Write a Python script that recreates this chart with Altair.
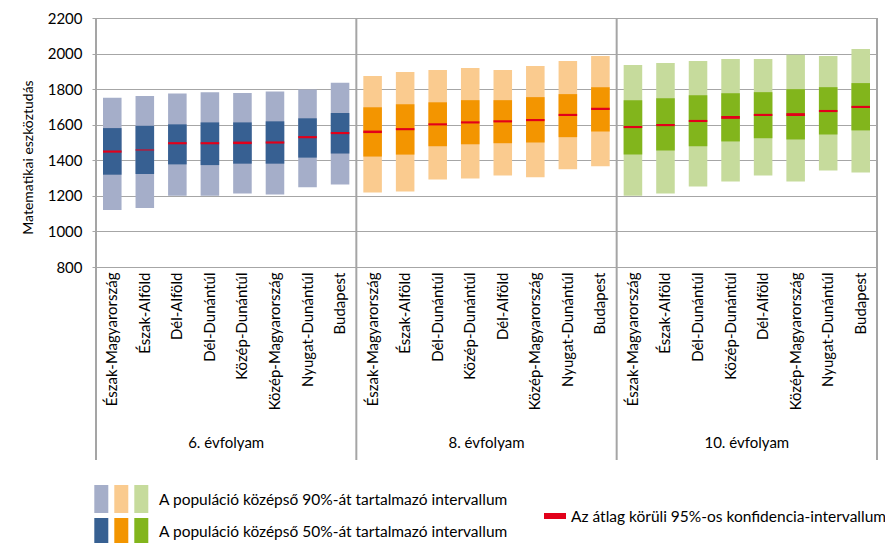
import altair as alt
import pandas as pd

grades = ["6. évfolyam", "8. évfolyam", "10. évfolyam"]
regions_6 = ["Észak-Magyarország", "Észak-Alföld", "Dél-Alföld", "Dél-Dunántúl",
             "Közép-Dunántúl", "Közép-Magyarország", "Nyugat-Dunántúl", "Budapest"]
regions_8 = ["Észak-Magyarország", "Észak-Alföld", "Dél-Dunántúl", "Közép-Dunántúl",
             "Dél-Alföld", "Közép-Magyarország", "Nyugat-Dunántúl", "Budapest"]
regions_10 = ["Észak-Magyarország", "Észak-Alföld", "Dél-Dunántúl", "Közép-Dunántúl",
              "Dél-Alföld", "Közép-Magyarország", "Nyugat-Dunántúl", "Budapest"]

# 5th / 25th / mean / 75th / 95th percentiles
p95_6 = [1751, 1762, 1775, 1783, 1779, 1787, 1798, 1836]
p75_6 = [1581, 1594, 1602, 1613, 1613, 1619, 1636, 1666]
mean_6 = [1449, 1458, 1496, 1496, 1498, 1500, 1530, 1553]
p25_6 = [1319, 1323, 1377, 1373, 1381, 1381, 1415, 1438]
p5_6 = [1121, 1132, 1200, 1200, 1213, 1207, 1249, 1264]
ci_6 = [6, 3, 6, 6, 7, 6, 6, 6]

p95_8 = [1874, 1896, 1908, 1919, 1908, 1930, 1958, 1987]
p75_8 = [1698, 1715, 1726, 1738, 1738, 1755, 1772, 1811]
mean_8 = [1560, 1575, 1602, 1613, 1619, 1626, 1655, 1689]
p25_8 = [1421, 1432, 1479, 1490, 1496, 1500, 1530, 1562]
p5_8 = [1219, 1224, 1292, 1298, 1315, 1304, 1349, 1366]
ci_8 = [7, 6, 6, 6, 6, 6, 6, 6]

p95_10 = [1936, 1947, 1958, 1970, 1970, 1994, 1987, 2026]
p75_10 = [1738, 1749, 1766, 1777, 1783, 1800, 1811, 1834]
mean_10 = [1587, 1598, 1621, 1641, 1655, 1657, 1677, 1700]
p25_10 = [1432, 1455, 1479, 1506, 1524, 1517, 1545, 1568]
p5_10 = [1200, 1213, 1253, 1281, 1315, 1281, 1343, 1332]
ci_10 = [6, 6, 6, 8, 6, 8, 6, 6]

y_ticks = [800, 1000, 1200, 1400, 1600, 1800, 2000, 2200]

light_colors = ["#A5AEC9", "#FACB8F", "#C6DB9C"]
dark_colors = ["#376092", "#F39500", "#82B51C"]
red = "#E2001A"
grid_gray = "#A6A6A6"
frame_gray = "#A5A5A5"
FONT = "Lato"

rows = []
sets = [
    (grades[0], regions_6, p5_6, p25_6, mean_6, p75_6, p95_6, ci_6),
    (grades[1], regions_8, p5_8, p25_8, mean_8, p75_8, p95_8, ci_8),
    (grades[2], regions_10, p5_10, p25_10, mean_10, p75_10, p95_10, ci_10),
]
for g, regs, a, b, m, c, d, ci in sets:
    for i, r in enumerate(regs):
        rows.append(dict(grade=g, key=f"{g}|{r}", region=r, p5=a[i], p25=b[i],
                         mean=m[i], p75=c[i], p95=d[i],
                         lo=m[i] - ci[i], hi=m[i] + ci[i]))
df = pd.DataFrame(rows)
keys = list(df["key"])

W, H = 781, 249

xaxis = alt.Axis(title=None, labelExpr="split(datum.label, '|')[1]",
                 labelAngle=270, labelAlign="right", labelBaseline="middle",
                 labelPadding=5, domain=False, ticks=False,
                 labelFont=FONT, labelFontSize=15, labelColor="black",
                 labelLimit=300)
xscale = alt.Scale(paddingInner=0.43, paddingOuter=0.215)
yscale = alt.Scale(domain=[800, 2200], nice=False, zero=False)
yaxis = alt.Axis(title="Matematikai eszköztudás", values=y_ticks,
                 format="d", labelOverlap=False, tickCount=8,
                 grid=True, gridColor=grid_gray, gridWidth=1,
                 domain=False, ticks=True, tickSize=4, tickColor=grid_gray,
                 labelPadding=10, labelFont=FONT, labelFontSize=15,
                 labelColor="black", titleFont=FONT, titleFontSize=14,
                 titleFontWeight="normal", titleColor="black",
                 titleX=-68, titleY=139, titleBaseline="middle",
                 titleAlign="center", titleAngle=270)

base = alt.Chart(df)

light = base.mark_bar().encode(
    x=alt.X("key:N", sort=keys, scale=xscale, axis=xaxis),
    y=alt.Y("p5:Q", scale=yscale, axis=yaxis),
    y2="p95:Q",
    color=alt.Color("grade:N", scale=alt.Scale(domain=grades, range=light_colors), legend=None),
)

dark = base.mark_bar().encode(
    x=alt.X("key:N", sort=keys, scale=xscale, axis=xaxis),
    y=alt.Y("p25:Q", scale=yscale, axis=yaxis),
    y2="p75:Q",
    color=alt.Color("grade:N", scale=alt.Scale(domain=grades, range=dark_colors), legend=None),
)

meanbar = base.mark_bar(color=red).encode(
    x=alt.X("key:N", sort=keys, scale=xscale, axis=xaxis),
    y=alt.Y("lo:Q", scale=yscale, axis=yaxis),
    y2="hi:Q",
)

# frame: vertical separators extending into the category label area
frame_layers = []
for xpos in [0, W / 3, 2 * W / 3, W]:
    frame_layers.append(
        alt.Chart(pd.DataFrame({"f": [0]})).mark_rule(color=frame_gray, strokeWidth=2).encode(
            x=alt.value(xpos), y=alt.value(0), y2=alt.value(442)
        )
    )

# group labels
group_layers = []
for gi, g in enumerate(grades):
    group_layers.append(
        alt.Chart(pd.DataFrame({"t": [g]})).mark_text(
            font=FONT, fontSize=15, color="black", align="center", baseline="middle"
        ).encode(x=alt.value(W / 6 + gi * W / 3), y=alt.value(425), text="t:N")
    )

# legend
legend_text_90 = "A populáció középső 90%-át tartalmazó intervallum"
legend_text_50 = "A populáció középső 50%-át tartalmazó intervallum"
legend_text_ci = "Az átlag körüli 95%-os konfidencia-intervallum"

legend_layers = []
for i in range(3):
    x0 = -1.7 + i * 20
    legend_layers.append(
        alt.Chart(pd.DataFrame({"f": [0]})).mark_rect(color=light_colors[i]).encode(
            x=alt.value(x0), x2=alt.value(x0 + 14), y=alt.value(467), y2=alt.value(495)))
    legend_layers.append(
        alt.Chart(pd.DataFrame({"f": [0]})).mark_rect(color=dark_colors[i]).encode(
            x=alt.value(x0), x2=alt.value(x0 + 14), y=alt.value(500), y2=alt.value(525)))
legend_layers.append(
    alt.Chart(pd.DataFrame({"f": [0]})).mark_rect(color=red).encode(
        x=alt.value(448), x2=alt.value(470), y=alt.value(495), y2=alt.value(501)))
for txt, xx, yy in [(legend_text_90, 63, 482), (legend_text_50, 63, 514), (legend_text_ci, 475, 499)]:
    legend_layers.append(
        alt.Chart(pd.DataFrame({"t": [txt]})).mark_text(
            font=FONT, fontSize=15.5, color="black", align="left", baseline="middle"
        ).encode(x=alt.value(xx), y=alt.value(yy), text="t:N"))

chart = alt.layer(light, dark, meanbar, *frame_layers, *group_layers, *legend_layers).resolve_scale(
    color="independent"
).properties(
    width=W, height=H,
    padding={"left": 88, "top": 10, "right": 8, "bottom": 285},
    autosize=alt.AutoSizeParams(type="none"),
).configure_view(strokeWidth=0).configure(background="white")

chart.save("out.html", embed_options={"renderer": "svg", "actions": False})
